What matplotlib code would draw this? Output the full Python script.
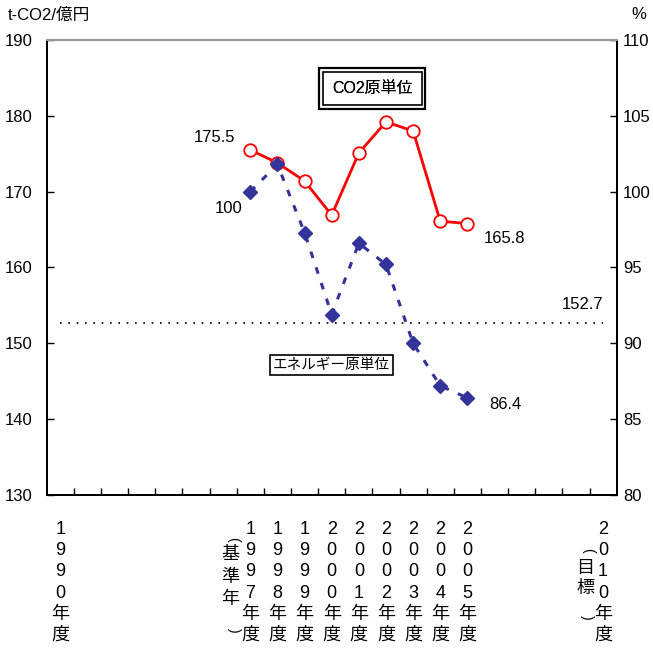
import numpy as np
import matplotlib
matplotlib.use('Agg')
import matplotlib.pyplot as plt
from matplotlib import font_manager
from matplotlib.transforms import blended_transform_factory

# fonts: narrow latin face first, CJK face for the kanji
names = {f.name for f in font_manager.fontManager.ttflist}
narrow = 'Liberation Sans Narrow' if 'Liberation Sans Narrow' in names else 'Liberation Sans'
plt.rcParams['font.family'] = [narrow, 'Noto Sans CJK JP', 'DejaVu Sans']
plt.rcParams['font.size'] = 12

# data
years = list(range(1990, 2011))
labeled_years = [1990, 1997, 1998, 1999, 2000, 2001, 2002, 2003, 2004, 2005, 2010]
data_years = [1997, 1998, 1999, 2000, 2001, 2002, 2003, 2004, 2005]
co2_intensity = [175.5, 173.8, 171.4, 166.9, 175.1, 179.2, 178.0, 166.1, 165.8]
energy_intensity = [100, 101.8, 97.3, 91.9, 96.6, 95.2, 90.0, 87.2, 86.4]
target_value = 152.7

xpos = [y - years[0] for y in data_years]

fig = plt.figure(figsize=(6.53, 6.51), dpi=100)
ax = fig.add_axes([0.0715, 0.2396, 0.8729, 0.699])
ax2 = ax.twinx()

# left axis: CO2 per revenue, right axis: index
ax.set_xlim(-0.5, len(years) - 0.5)
ax.set_ylim(130, 190)
ax.set_yticks(np.arange(130, 191, 10))
ax2.set_ylim(80, 110)
ax2.set_yticks(np.arange(80, 111, 5))

# target line
ax.hlines(target_value, years[0] - years[0], years[-1] - years[0], colors='k',
          linestyles=(0, (1, 4)), linewidth=1.2, zorder=2)

# CO2 line (left axis)
ax.plot(xpos, co2_intensity, color='#ff0000', lw=2, marker='o', ms=9,
        mfc='white', mec='#ff0000', mew=1.3, zorder=4)
# energy line (right axis)
ax2.plot(xpos, energy_intensity, color='#333399', lw=2.2, ls=(0, (2.2, 3.2)),
         marker='D', ms=7.5, mfc='#333399', mec='#333399', zorder=4)

# x tick labels, written vertically
labels = []
for y in years:
    if y in labeled_years:
        labels.append('\n'.join(str(y)) + '\n年\n度')
    else:
        labels.append('')
ax.set_xticks(range(len(years)))
ax.set_xticklabels(labels, linespacing=1.33, va='top', fontsize=13)
ax.tick_params(axis='x', which='major', length=0, pad=18.5)
ax.set_xticks(np.arange(0.5, len(years) - 1, 1), minor=True)
ax.tick_params(axis='x', which='minor', direction='in', length=5, width=1, color='k')
ax.tick_params(axis='y', direction='in', length=5, width=1, pad=10)
ax2.tick_params(axis='y', direction='in', length=5, width=1, pad=4.5)

for a in (ax, ax2):
    a.spines['top'].set_color('#999999')
    a.spines['top'].set_linewidth(1.5)
    for s in ('left', 'right', 'bottom'):
        a.spines[s].set_color('k')
        a.spines[s].set_linewidth(1.3)

# base year / target notes beside the tick labels (vertical brackets)
trans = blended_transform_factory(ax.transData, ax.transAxes)
base_x = 1997 - years[0]
ax.text(base_x - 0.73, -0.181, '基\n準\n年', transform=trans, ha='center', va='center',
        linespacing=1.42, fontsize=13)
ax.text(base_x - 0.62, -0.097, '(', transform=trans, ha='center', va='center',
        rotation=-90, rotation_mode='anchor', fontsize=10)
ax.text(base_x - 0.6, -0.297, ')', transform=trans, ha='center', va='center',
        rotation=-90, rotation_mode='anchor', fontsize=10)
goal_x = 2010 - years[0]
ax.text(goal_x - 0.65, -0.183, '目\n標', transform=trans, ha='center', va='center',
        linespacing=1.27, fontsize=13)
ax.text(goal_x - 0.56, -0.121, '(', transform=trans, ha='center', va='center',
        rotation=-90, rotation_mode='anchor', fontsize=10)
ax.text(goal_x - 0.6, -0.268, ')', transform=trans, ha='center', va='center',
        rotation=-90, rotation_mode='anchor', fontsize=10)

# value annotations
ax.annotate(f'{co2_intensity[0]}', (xpos[0], co2_intensity[0]), xytext=(-15, 12),
            textcoords='offset pixels', ha='right', va='center')
ax2.annotate(f'{energy_intensity[0]}', (xpos[0], energy_intensity[0]), xytext=(-8, -17),
             textcoords='offset pixels', ha='right', va='center')
ax.annotate(f'{co2_intensity[-1]}', (xpos[-1], co2_intensity[-1]), xytext=(16, -15),
            textcoords='offset pixels', ha='left', va='center')
ax2.annotate(f'{energy_intensity[-1]}', (xpos[-1], energy_intensity[-1]), xytext=(22, -7),
             textcoords='offset pixels', ha='left', va='center')
ax.annotate(f'{target_value}', (years[-1] - years[0], target_value), xytext=(0, 18),
            textcoords='offset pixels', ha='right', va='center')

# series name boxes
ax.text(11.5, 183.6, 'CO2原単位', ha='center', va='center', zorder=5, fontsize=11.5,
        bbox=dict(boxstyle='square,pad=0.8', fc='white', ec='k', lw=1.6))
ax.text(11.5, 183.6, 'CO2原単位', ha='center', va='center', zorder=6, fontsize=11.5,
        bbox=dict(boxstyle='square,pad=0.56', fc='none', ec='k', lw=1.2))
ax.text(10, 147.1, 'エネルギー原単位', ha='center', va='center', zorder=5, fontsize=10.5,
        bbox=dict(boxstyle='square,pad=0.2', fc='white', ec='k', lw=1.2))

# axis unit labels
fig.text(0.012, 0.977, 't-CO2/億円', ha='left', va='center', fontsize=12)
fig.text(0.99, 0.977, '%', ha='right', va='center', fontsize=12)

fig.savefig('out.png', dpi=100)
